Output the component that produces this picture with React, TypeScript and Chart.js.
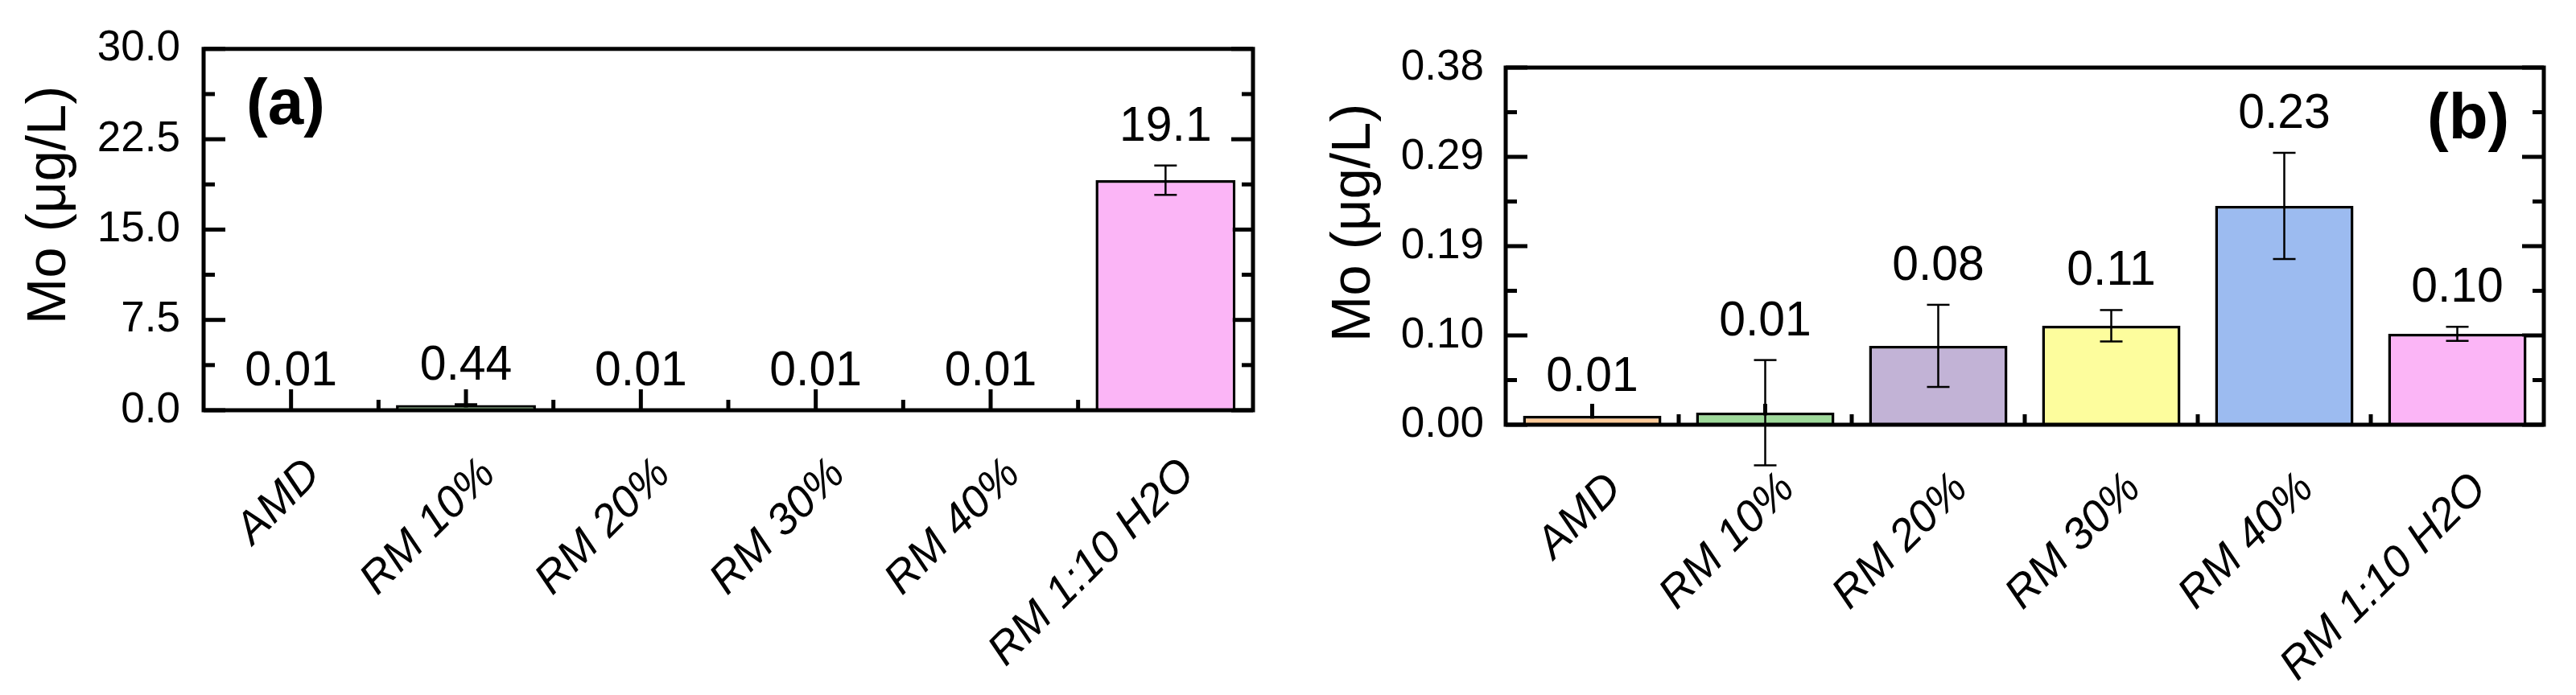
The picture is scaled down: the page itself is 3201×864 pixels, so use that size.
import { useEffect, useRef } from "react";
import { Chart, registerables } from "chart.js";

Chart.register(...registerables);

// ---------- data ----------
const categories = ["AMD", "RM 10%", "RM 20%", "RM 30%", "RM 40%", "RM 1:10 H2O"];
const barColors = ["#FDCA98", "#9ED99A", "#C2B3D6", "#FDFD9D", "#9CBBF0", "#FBB5F6"];

const valuesA = [0.01, 0.44, 0.01, 0.01, 0.01, 19.1];
const errorsA = [0, 0.06, 0, 0, 0, 1.22];
const valueLabelsA = ["0.01", "0.44", "0.01", "0.01", "0.01", "19.1"];
const yTickLabelsA = ["0.0", "7.5", "15.0", "22.5", "30.0"];

const valuesB = [0.0094, 0.0128, 0.0839, 0.1053, 0.2328, 0.0967];
const errorsB = [0, 0.056, 0.0437, 0.0167, 0.0565, 0.0075];
const valueLabelsB = ["0.01", "0.01", "0.08", "0.11", "0.23", "0.10"];
const yTickLabelsB = ["0.00", "0.10", "0.19", "0.29", "0.38"];

const yTitle = "Mo (μg/L)";
const FONT = '"Liberation Sans", Arial, sans-serif';

type Panel = {
  key: string;
  values: number[];
  errors: number[];
  valueLabels: string[];
  yTickLabels: string[];
  yMax: number;
  yStep: number;
  padTop: number;
  padRight: number;
  yWidth: number;
  xHeight: number;
  yTickPad: number;
  titleX: number;
  titleY: number;
  panelLabel: string;
  panelLabelX: number;
  panelLabelY: number;
};

const panelA: Panel = {
  key: "a",
  values: valuesA,
  errors: errorsA,
  valueLabels: valueLabelsA,
  yTickLabels: yTickLabelsA,
  yMax: 30,
  yStep: 7.5,
  padTop: 60,
  padRight: 43,
  yWidth: 253,
  xHeight: 354,
  yTickPad: 29,
  titleX: 81,
  titleY: 255,
  panelLabel: "(a)",
  panelLabelX: 306,
  panelLabelY: 154,
};

const panelB: Panel = {
  key: "b",
  values: valuesB,
  errors: errorsB,
  valueLabels: valueLabelsB,
  yTickLabels: yTickLabelsB,
  yMax: 0.38,
  yStep: 0.095,
  padTop: 84,
  padRight: 40,
  yWidth: 271,
  xHeight: 336,
  yTickPad: 27,
  titleX: 102,
  titleY: 277,
  panelLabel: "(b)",
  panelLabelX: 1416,
  panelLabelY: 172,
};

function line(ctx: CanvasRenderingContext2D, x1: number, y1: number, x2: number, y2: number) {
  ctx.beginPath();
  ctx.moveTo(x1, y1);
  ctx.lineTo(x2, y2);
  ctx.stroke();
}

function makePlugin(p: Panel) {
  return {
    id: "decor_" + p.key,
    beforeDatasetsDraw(chart: any) {
      const { ctx, chartArea: ca } = chart;
      const x = chart.scales.x;
      const y = chart.scales.y;
      ctx.save();
      ctx.strokeStyle = "#000";
      ctx.lineWidth = 5;
      const n = Math.round(p.yMax / p.yStep) * 2;
      for (let k = 0; k <= n; k++) {
        const py = y.getPixelForValue((k * p.yStep) / 2);
        const len = k % 2 === 0 ? 27 : 14;
        line(ctx, ca.left, py, ca.left + len, py);
        line(ctx, ca.right, py, ca.right - len, py);
      }
      for (let i = 0; i < categories.length; i++) {
        const px = x.getPixelForValue(i);
        line(ctx, px, ca.bottom, px, ca.bottom - 26);
      }
      for (let i = 1; i < categories.length; i++) {
        const px = (x.getPixelForValue(i - 1) + x.getPixelForValue(i)) / 2;
        line(ctx, px, ca.bottom, px, ca.bottom - 13);
      }
      ctx.restore();
    },
    afterDatasetsDraw(chart: any) {
      const { ctx, chartArea: ca } = chart;
      const x = chart.scales.x;
      const y = chart.scales.y;
      ctx.save();
      // error bars
      ctx.strokeStyle = "#000";
      ctx.lineWidth = 2.5;
      for (let i = 0; i < p.values.length; i++) {
        const e = p.errors[i];
        if (e <= 0) continue;
        const px = x.getPixelForValue(i);
        const yt = y.getPixelForValue(p.values[i] + e);
        const yb = y.getPixelForValue(p.values[i] - e);
        line(ctx, px, yt, px, yb);
        line(ctx, px - 14, yt, px + 14, yt);
        line(ctx, px - 14, yb, px + 14, yb);
      }
      // frame
      ctx.lineWidth = 5;
      ctx.strokeRect(ca.left, ca.top, ca.right - ca.left, ca.bottom - ca.top);
      // value labels
      ctx.fillStyle = "#000";
      ctx.font = `62px ${FONT}`;
      ctx.textAlign = "center";
      ctx.textBaseline = "alphabetic";
      for (let i = 0; i < p.values.length; i++) {
        const px = x.getPixelForValue(i);
        const yt = y.getPixelForValue(p.values[i] + p.errors[i]);
        const cy = yt - 53;
        ctx.save();
        ctx.translate(px, cy + 22);
        ctx.scale(0.95, 1);
        ctx.fillText(p.valueLabels[i], 0, 0);
        ctx.restore();
      }
      // category labels (rotated 45°, italic)
      ctx.font = `italic 55px ${FONT}`;
      ctx.textAlign = "right";
      ctx.textBaseline = "alphabetic";
      for (let i = 0; i < categories.length; i++) {
        const ax = x.getPixelForValue(i) + 39;
        const ay = ca.bottom + 82;
        ctx.save();
        ctx.translate(ax, ay);
        ctx.rotate(-Math.PI / 4);
        ctx.fillText(categories[i], 0, 0);
        ctx.restore();
      }
      // y title
      ctx.save();
      ctx.translate(p.titleX, p.titleY);
      ctx.rotate(-Math.PI / 2);
      ctx.font = `69px ${FONT}`;
      ctx.textAlign = "center";
      ctx.textBaseline = "alphabetic";
      ctx.fillText(yTitle, 0, 0);
      ctx.restore();
      // panel label
      ctx.font = `bold 80px ${FONT}`;
      ctx.textAlign = "left";
      ctx.textBaseline = "alphabetic";
      ctx.fillText(p.panelLabel, p.panelLabelX, p.panelLabelY);
      ctx.restore();
    },
  };
}

function buildChart(canvas: HTMLCanvasElement, p: Panel) {
  return new Chart(canvas, {
    type: "bar",
    data: {
      labels: categories,
      datasets: [
        {
          data: p.values,
          backgroundColor: barColors,
          borderColor: "#000",
          borderWidth: 3.5,
          barPercentage: 0.8,
          categoryPercentage: 1.0,
        },
      ],
    },
    options: {
      animation: false,
      responsive: false,
      devicePixelRatio: 1,
      layout: { padding: { top: p.padTop, right: p.padRight, left: 0, bottom: 0 } },
      plugins: { legend: { display: false }, tooltip: { enabled: false } },
      scales: {
        x: {
          grid: { display: false, drawTicks: false },
          border: { display: false },
          ticks: { display: false, autoSkip: false },
          afterFit: (s: any) => {
            s.height = p.xHeight;
          },
        },
        y: {
          min: 0,
          max: p.yMax,
          grid: { display: false, drawTicks: false },
          border: { display: false },
          ticks: {
            stepSize: p.yStep,
            color: "#000",
            font: { family: FONT, size: 53 },
            padding: p.yTickPad,
            callback: (v: any) => p.yTickLabels[Math.round(Number(v) / p.yStep)] ?? "",
          },
          afterFit: (s: any) => {
            s.width = p.yWidth;
          },
        },
      },
    },
    plugins: [makePlugin(p)],
  } as any);
}

export default function App() {
  const refA = useRef<HTMLCanvasElement>(null);
  const refB = useRef<HTMLCanvasElement>(null);
  useEffect(() => {
    const a = buildChart(refA.current as HTMLCanvasElement, panelA);
    const b = buildChart(refB.current as HTMLCanvasElement, panelB);
    return () => {
      a.destroy();
      b.destroy();
    };
  }, []);
  return (
    <div style={{ position: "absolute", left: 0, top: 0, width: 3201, height: 864, background: "#fff" }}>
      <canvas
        ref={refA}
        width={1600}
        height={864}
        style={{ position: "absolute", left: 0, top: 0, width: 1600, height: 864 }}
      />
      <canvas
        ref={refB}
        width={1601}
        height={864}
        style={{ position: "absolute", left: 1600, top: 0, width: 1601, height: 864 }}
      />
    </div>
  );
}
